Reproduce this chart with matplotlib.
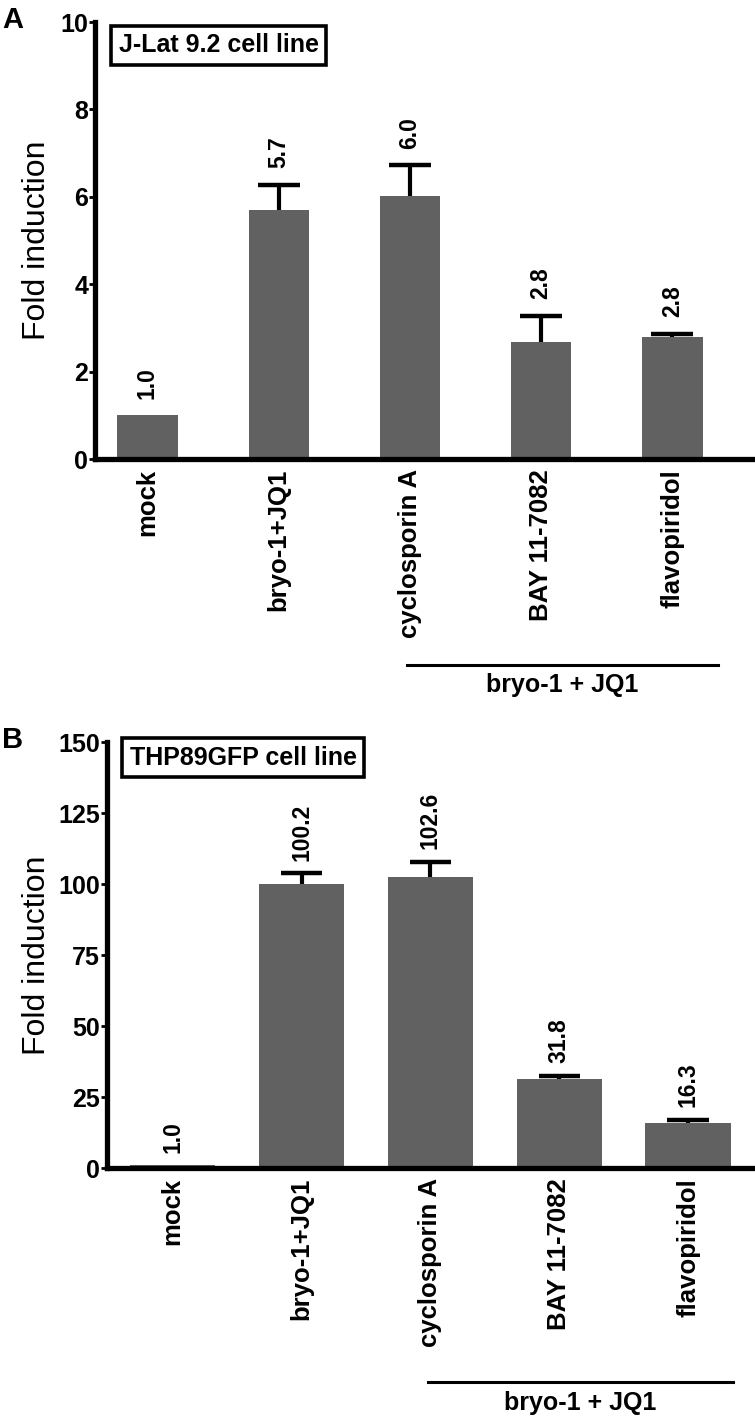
import numpy as np
import matplotlib
matplotlib.use("Agg")
import matplotlib.pyplot as plt
import matplotlib.transforms as mtransforms

plt.rcParams['font.family'] = ['Liberation Sans', 'DejaVu Sans']

# data
categories = ["mock", "bryo-1+JQ1", "cyclosporin A", "BAY 11-7082", "flavopiridol"]

jlat_values = [1.0, 5.7, 6.02, 2.68, 2.8]
jlat_err = [0.0, 0.58, 0.7, 0.6, 0.07]
jlat_labels = ["1.0", "5.7", "6.0", "2.8", "2.8"]
jlat_ticks = [0, 2, 4, 6, 8, 10]

thp_values = [1.0, 100.2, 102.6, 31.5, 16.0]
thp_err = [0.0, 3.6, 5.2, 1.0, 1.0]
thp_labels = ["1.0", "100.2", "102.6", "31.8", "16.3"]
thp_ticks = [0, 25, 50, 75, 100, 125, 150]

bar_color = "#616161"

fig = plt.figure(figsize=(7.55, 14.16), dpi=100)
ax_a = fig.add_axes([0.1258, 0.6758, 0.8742, 0.3086])
ax_b = fig.add_axes([0.1417, 0.1751, 0.8583, 0.3008])


def draw_panel(ax, values, err, labels, ticks, width, xlim, label_gap, cap_half,
               box_text, box_xy, letter, letter_xy, bracket_y, ylab_x):
    x = np.arange(len(categories))
    vals = np.array(values)
    errs = np.array(err)
    ax.bar(x, vals, width=width, color=bar_color, zorder=2)
    has_err = errs > 0
    ax.vlines(x[has_err], vals[has_err], vals[has_err] + errs[has_err],
              color="black", lw=3, zorder=3)
    ax.hlines(vals[has_err] + errs[has_err], x[has_err] - cap_half, x[has_err] + cap_half,
              color="black", lw=3.2, zorder=3)
    for xi, top, lab in zip(x, vals + errs, labels):
        ax.annotate(lab, (xi, top), xytext=(0, label_gap), textcoords="offset points",
                    rotation=90, ha="center", va="bottom", fontsize=16.5, fontweight="bold")

    ax.set_xlim(*xlim)
    ax.set_ylim(ticks[0], ticks[-1])
    ax.set_yticks(ticks)
    ax.set_yticklabels([str(t) for t in ticks], fontsize=18, fontweight="bold")
    ax.set_xticks(x)
    ax.set_xticklabels(categories, rotation=90, fontsize=18.5, fontweight="bold",
                       va="top", ha="center")
    ax.tick_params(axis="x", length=0, pad=7)
    ax.tick_params(axis="y", length=4, width=2, pad=1, direction="out")
    for s in ["top", "right"]:
        ax.spines[s].set_visible(False)
    for s in ["left", "bottom"]:
        ax.spines[s].set_linewidth(3.8)
    ax.set_ylabel("Fold induction", fontsize=23)
    ax.yaxis.set_label_coords(ylab_x, 0.5)

    # bracket for bryo-1 + JQ1 combos
    trans = mtransforms.blended_transform_factory(ax.transData, fig.transFigure)
    ax.plot([1.98, 4.35], [bracket_y, bracket_y], color="black", lw=2.2,
            transform=trans, clip_on=False)
    ax.text(3.16, bracket_y - 0.006, "bryo-1 + JQ1", transform=trans, ha="center",
            va="top", fontsize=18, fontweight="bold")

    fig.text(box_xy[0], box_xy[1], box_text, ha="center", va="center", fontsize=18,
             fontweight="bold",
             bbox=dict(boxstyle="square,pad=0.3", fc="white", ec="black", lw=2.6))
    fig.text(letter_xy[0], letter_xy[1], letter, ha="left", va="top", fontsize=21,
             fontweight="bold")


draw_panel(ax_a, jlat_values, jlat_err, jlat_labels, jlat_ticks, 0.46, (-0.4, 4.63),
           12, 0.16, "J-Lat 9.2 cell line", (0.290, 0.9682), "A", (0.003, 0.996),
           0.5304, -0.065)
draw_panel(ax_b, thp_values, thp_err, thp_labels, thp_ticks, 0.66, (-0.51, 4.52),
           9, 0.16, "THP89GFP cell line", (0.3225, 0.4647), "B", (0.003, 0.487),
           0.024, -0.085)

fig.savefig("out.png", dpi=100)
